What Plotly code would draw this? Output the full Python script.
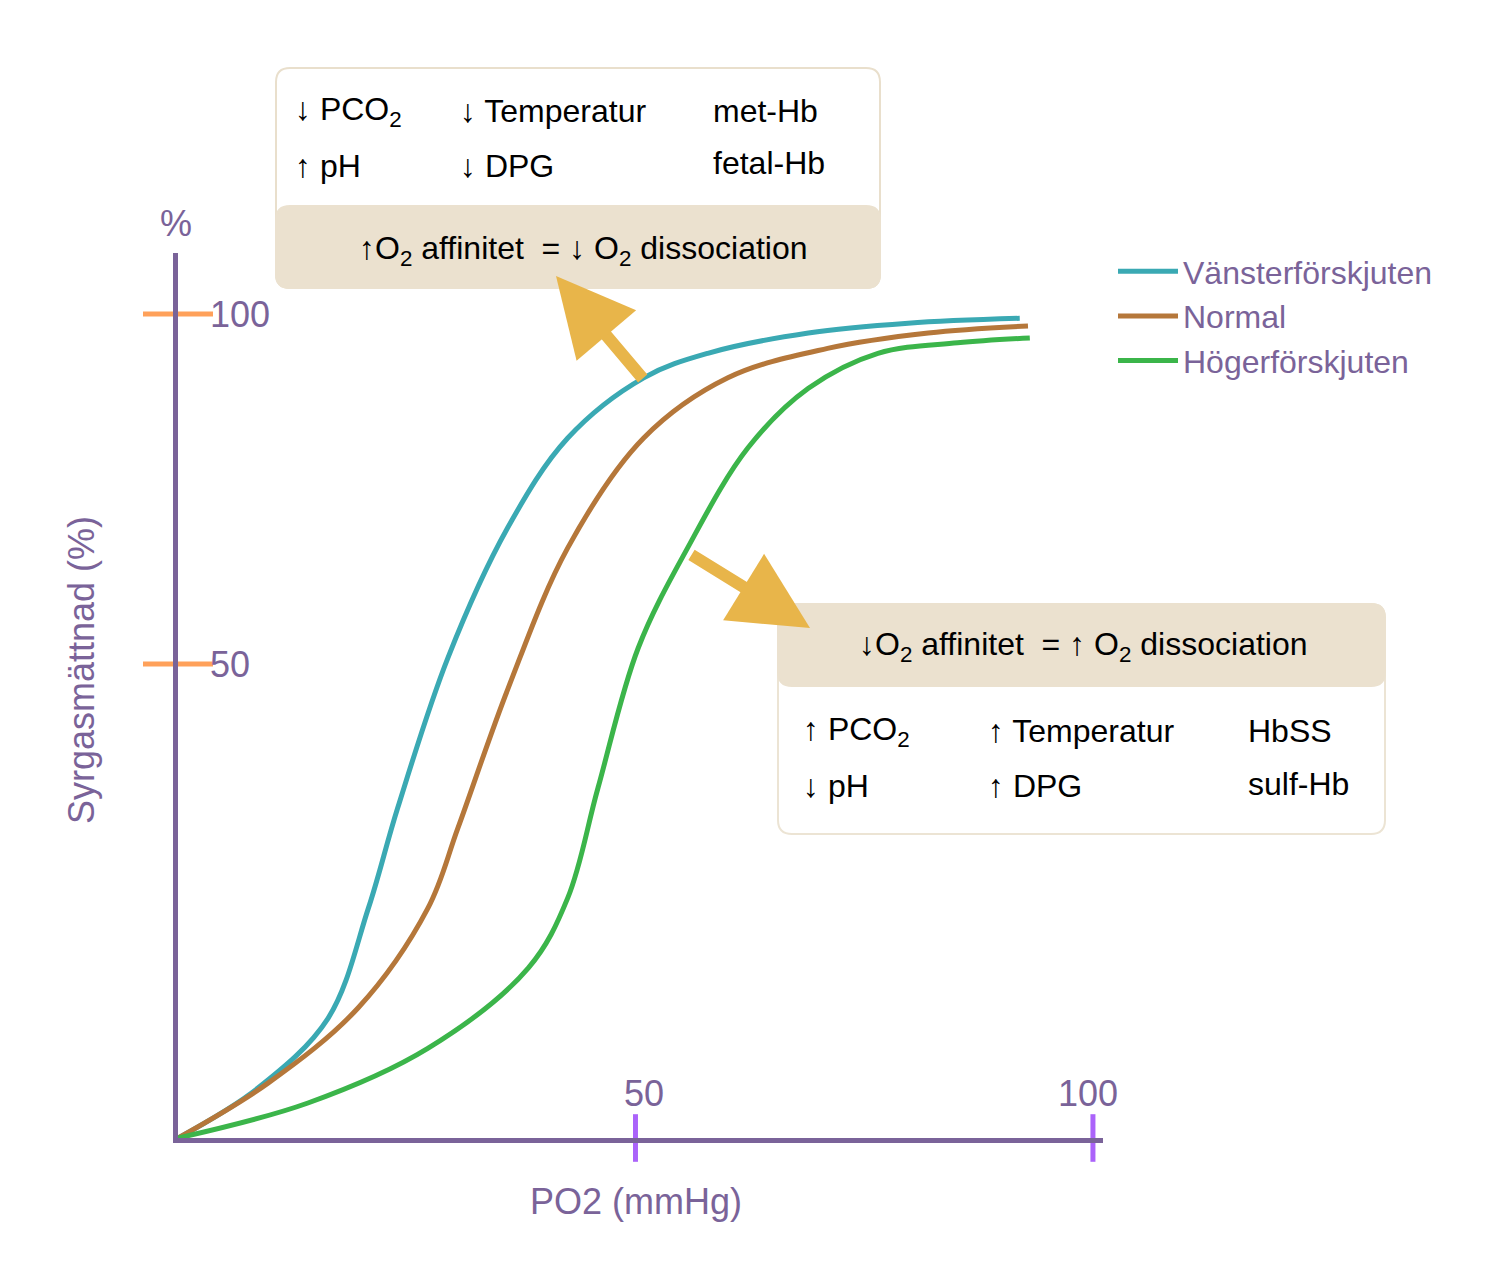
import plotly.graph_objects as go

# curve data (PO2 mmHg, saturation %)
left_x = [0, 8.7, 16.4, 20.8, 24, 29.5, 36, 42.6, 50.9, 57.9, 68.9, 79.8, 92]
left_y = [-17.7, -10.6, -0.6, 15.1, 29.4, 50.9, 69.4, 82.3, 90.9, 94.4, 97.3, 98.7, 99.4]
norm_x = [0, 9.8, 19.7, 27.3, 30.6, 36.1, 42.6, 50.9, 60.1, 71, 82, 92.9]
norm_y = [-17.7, -9.9, 0.9, 15.1, 26.6, 46.6, 66.6, 82.3, 90.9, 95.1, 97.3, 98.3]
right_x = [0, 14.2, 27.3, 38.3, 42.6, 45.9, 50.3, 55.7, 62.3, 68.9, 76.5, 85.2, 93.1]
right_y = [-17.7, -12.7, -4.9, 6.6, 16.6, 32.3, 52.3, 66.6, 80.9, 89.4, 94.4, 95.9, 96.6]
names = ["Vänsterförskjuten", "Normal", "Högerförskjuten"]
colors = ["#3aa9b3", "#b5773a", "#3bb54a"]
x_ticks = [50, 100]
y_ticks = [50, 100]

PURPLE = "#7a6399"
FONT = "Liberation Sans"
Y0 = -17.7

# plot area in pixels: x 170..1095, y 245..1130
def px(x): return (x - 170) / 925
def py(y): return (1130 - y) / 885

fig = go.Figure()
for xs, ys, n, c in zip([left_x, norm_x, right_x], [left_y, norm_y, right_y], names, colors):
  fig.add_trace(go.Scatter(x=xs, y=ys, name=n, mode="lines",
                           line=dict(color=c, width=5, shape="spline", smoothing=1.0)))

fig.add_trace(go.Scatter(x=x_ticks, y=[Y0] * 2, mode="markers", showlegend=False, cliponaxis=False,
                         marker=dict(symbol="line-ns-open", size=34, line=dict(color=PURPLE, width=5))))
fig.add_trace(go.Scatter(x=[0, 0], y=y_ticks, mode="markers", showlegend=False, cliponaxis=False,
                         marker=dict(symbol="line-ew-open", size=50, line=dict(color=PURPLE, width=5))))

def rrect(x0, y0, x1, y1, r, fill, line):
  a, b, c, d = px(x0), px(x1), py(y0), py(y1)
  rx, ry = r / 925, r / 885
  path = (f"M {a+rx},{c} L {b-rx},{c} Q {b},{c} {b},{c-ry} L {b},{d+ry} Q {b},{d} {b-rx},{d} "
          f"L {a+rx},{d} Q {a},{d} {a},{d+ry} L {a},{c-ry} Q {a},{c} {a+rx},{c} Z")
  fig.add_shape(type="path", path=path, xref="paper", yref="paper", fillcolor=fill,
                line=dict(color=line, width=2), layer="above")

BEIGE = "#ebe1cf"
rrect(268, 60, 872, 280, 14, "white", "#e9dfcc")
rrect(268, 198, 872, 280, 14, BEIGE, BEIGE)
rrect(770, 596, 1377, 826, 14, "white", "#ece4d4")
rrect(770, 596, 1377, 678, 14, BEIGE, BEIGE)

def txt(x, y, s, size=32, color="black", anchor="left", **kw):
  fig.add_annotation(x=px(x), y=py(y), xref="paper", yref="paper", text=s, showarrow=False,
                     xanchor=anchor, yanchor="middle", font=dict(family=FONT, size=size, color=color), **kw)

box1 = [(285, 103, "↓ PCO<sub>2</sub>"), (285, 158, "↑ pH"), (450, 103, "↓ Temperatur"),
        (450, 158, "↓ DPG"), (703, 103, "met-Hb"), (703, 155, "fetal-Hb")]
box2 = [(793, 723, "↑ PCO<sub>2</sub>"), (793, 778, "↓ pH"), (978, 723, "↑ Temperatur"),
        (978, 778, "↑ DPG"), (1238, 723, "HbSS"), (1238, 776, "sulf-Hb")]
for x, y, s in box1 + box2:
  txt(x, y, s)
txt(575, 242, "↑O<sub>2</sub> affinitet  = ↓ O<sub>2</sub> dissociation", anchor="center")
txt(1075, 638, "↓O<sub>2</sub> affinitet  = ↑ O<sub>2</sub> dissociation", anchor="center")

# arrows
ARROW = "#e8b54a"
for (x0, y0), (x1, y1) in [((636, 372), (548, 268)), ((682, 546), (802, 620))]:
  fig.add_annotation(x=px(x1), y=py(y1), ax=x0 - x1, ay=y0 - y1, xref="paper", yref="paper",
                     axref="pixel", ayref="pixel", showarrow=True, arrowhead=2, arrowsize=1.3,
                     arrowwidth=12, arrowcolor=ARROW, text="")

# axis texts
txt(200, 306, "100", size=36, color=PURPLE)
txt(200, 656, "50", size=36, color=PURPLE)
txt(168, 215, "%", size=36, color=PURPLE, anchor="center")
txt(636, 1085, "50", size=36, color=PURPLE, anchor="center")
txt(1080, 1085, "100", size=36, color=PURPLE, anchor="center")
txt(628, 1193, "PO2 (mmHg)", size=36, color=PURPLE, anchor="center")
txt(73, 662, "Syrgasmättnad (%)", size=36, color=PURPLE, anchor="center", textangle=-90)

fig.update_layout(
  width=1500, height=1275,
  margin=dict(l=170, r=405, t=245, b=145),
  plot_bgcolor="white", paper_bgcolor="white",
  xaxis=dict(range=[0, 101.1], showgrid=False, zeroline=False, showticklabels=False, ticks="",
             showline=True, linecolor=PURPLE, linewidth=5),
  yaxis=dict(range=[Y0, Y0 + 885 / 7], showgrid=False, zeroline=False, showticklabels=False, ticks="",
             showline=True, linecolor=PURPLE, linewidth=5),
  legend=dict(x=px(1105), y=py(236), xanchor="left", yanchor="top", xref="paper", yref="paper",
              font=dict(family=FONT, size=32, color=PURPLE), bgcolor="rgba(0,0,0,0)",
              tracegroupgap=0, itemwidth=60),
  showlegend=True,
)

fig.write_html("out.html")
